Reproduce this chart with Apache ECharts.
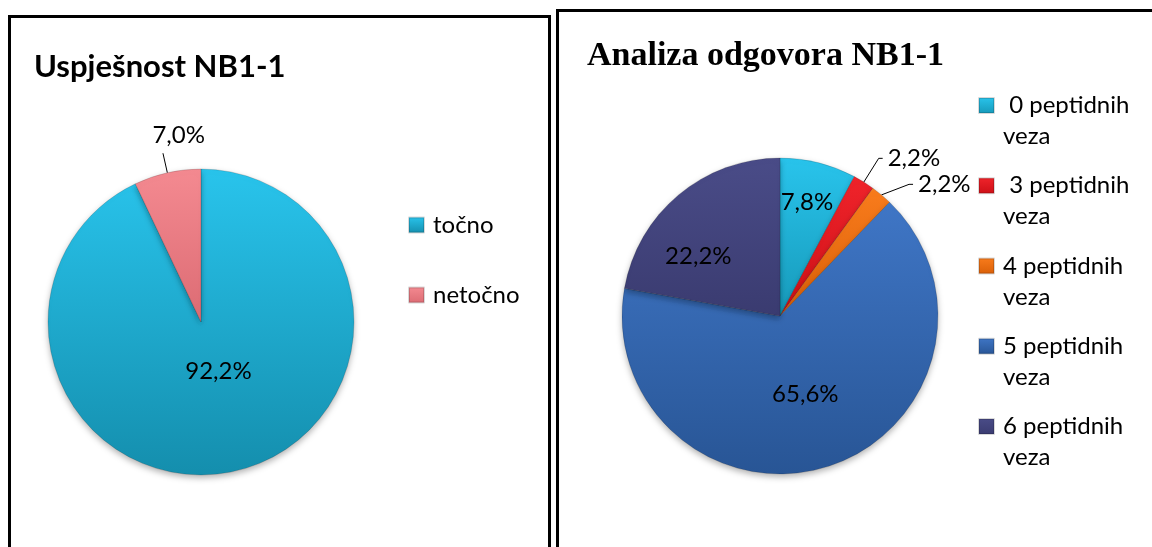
<!DOCTYPE html>
<html>
<head>
<meta charset="UTF-8">
<title>NB1-1</title>
<script src="https://cdn.jsdelivr.net/npm/echarts@6/dist/echarts.min.js"></script>
<style>
  * { padding: 0; margin: 0; }
  body { width: 1152px; height: 547px; overflow: hidden; background: #fff; position: relative; }
  .panel { position: absolute; border: 3px solid #000; box-sizing: border-box; }
  #p1 { left: 8px; top: 15px; width: 543px; height: 600px; }
  #p2 { left: 556px; top: 9px; width: 640px; height: 600px; }
  #main { position: absolute; left: 0; top: 0; width: 1152px; height: 547px; }
</style>
</head>
<body>
<div class="panel" id="p1"></div>
<div class="panel" id="p2"></div>
<div id="main"></div>
<script>
// lijevi graf - uspjesnost
var leftNames = ['točno', 'netočno'];
var leftValues = [92.2, 7.0];
var leftColors = [['#29c4ec', '#148ead'], ['#f48a91', '#dc6b73']];

// desni graf - analiza odgovora
var rightNames = [' 0 peptidnih veza', ' 3 peptidnih veza', '4 peptidnih veza', '5 peptidnih veza', '6 peptidnih veza'];
var rightValues = [7.8, 2.2, 2.2, 65.6, 22.2];
var rightColors = [['#29c4ec', '#1699b9'], ['#f0242b', '#cc0f16'], ['#f97c1c', '#d95f08'], ['#3f76c6', '#285595'], ['#4a4c88', '#3a3b70']];

var font = 'Lato';

function grad(c) {
  return new echarts.graphic.LinearGradient(0, 0, 0, 1, [
    { offset: 0, color: c[0] },
    { offset: 1, color: c[1] }
  ]);
}

// male kriske imaju oznaku izvana, velike iznutra
function buildData(names, values, colors) {
  return names.map(function (n, i) {
    return {
      name: n,
      value: values[i],
      itemStyle: { color: grad(colors[i]) },
      label: { position: values[i] < 10 && names.length < 3 || values[i] < 5 ? 'outside' : 'inside' }
    };
  });
}

function pct(p) {
  return p.value.toFixed(1).replace('.', ',') + '%';
}

// pomak oznaka u odnosu na zadani polozaj
var labelShift = {
  'točno': [0, -28],
  'netočno': [47, -18],
  ' 0 peptidnih veza': [7, -34],
  '6 peptidnih veza': [-29, 3]
};

function shiftLabel(names) {
  return function (p) {
    var s = labelShift[names[p.dataIndex]];
    return s ? { dx: s[0], dy: s[1] } : {};
  };
}

var chart = echarts.init(document.getElementById('main'));

var pieStyle = {
  borderWidth: 1,
  borderColor: 'rgba(0,0,0,0.15)',
  shadowBlur: 6,
  shadowOffsetY: 3,
  shadowColor: 'rgba(0,0,0,0.3)'
};

chart.setOption({
  animation: false,
  title: [{
    text: 'Uspješnost NB1-1',
    left: 29, top: 46,
    textStyle: { fontFamily: font, fontWeight: 'bold', fontSize: 31, color: '#000' }
  }, {
    text: 'Analiza odgovora NB1-1',
    left: 582, top: 34,
    textStyle: { fontFamily: 'Liberation Serif', fontWeight: 'bold', fontSize: 34, color: '#000' }
  }],
  legend: [{
    data: leftNames,
    orient: 'vertical',
    left: 403, top: 207,
    itemWidth: 15, itemHeight: 15,
    itemGap: 44,
    icon: 'rect',
    selectedMode: false,
    textStyle: { fontFamily: font, fontSize: 24, color: '#000', lineHeight: 26, padding: [0, 0, 0, 4] }
  }, {
    data: rightNames,
    orient: 'vertical',
    left: 973, top: 88.5,
    itemWidth: 15, itemHeight: 15,
    itemGap: 25.25,
    icon: 'rect',
    selectedMode: false,
    formatter: function (n) {
      var p = n.split(' veza');
      return '{t|' + p[0] + '}\n{t|veza}';
    },
    textStyle: {
      padding: [31, 0, 0, 4],
      rich: { t: { fontFamily: font, fontSize: 24, color: '#000', lineHeight: 31 } }
    }
  }],
  series: [{
    type: 'pie',
    center: [201, 322],
    radius: 153,
    startAngle: 90,
    clockwise: true,
    itemStyle: pieStyle,
    data: buildData(leftNames, leftValues, leftColors),
    label: {
      formatter: pct,
      fontFamily: font, fontSize: 24, color: '#000'
    },
    labelLine: { length: 20, length2: 0, lineStyle: { color: '#000', width: 1 } },
    labelLayout: shiftLabel(leftNames)
  }, {
    type: 'pie',
    center: [780, 316],
    radius: 158,
    startAngle: 90,
    clockwise: true,
    itemStyle: pieStyle,
    data: buildData(rightNames, rightValues, rightColors),
    label: {
      formatter: pct,
      fontFamily: font, fontSize: 24, color: '#000'
    },
    labelLine: { length: 28, length2: 4, lineStyle: { color: '#000', width: 1 } },
    labelLayout: shiftLabel(rightNames)
  }]
});
</script>
</body>
</html>
